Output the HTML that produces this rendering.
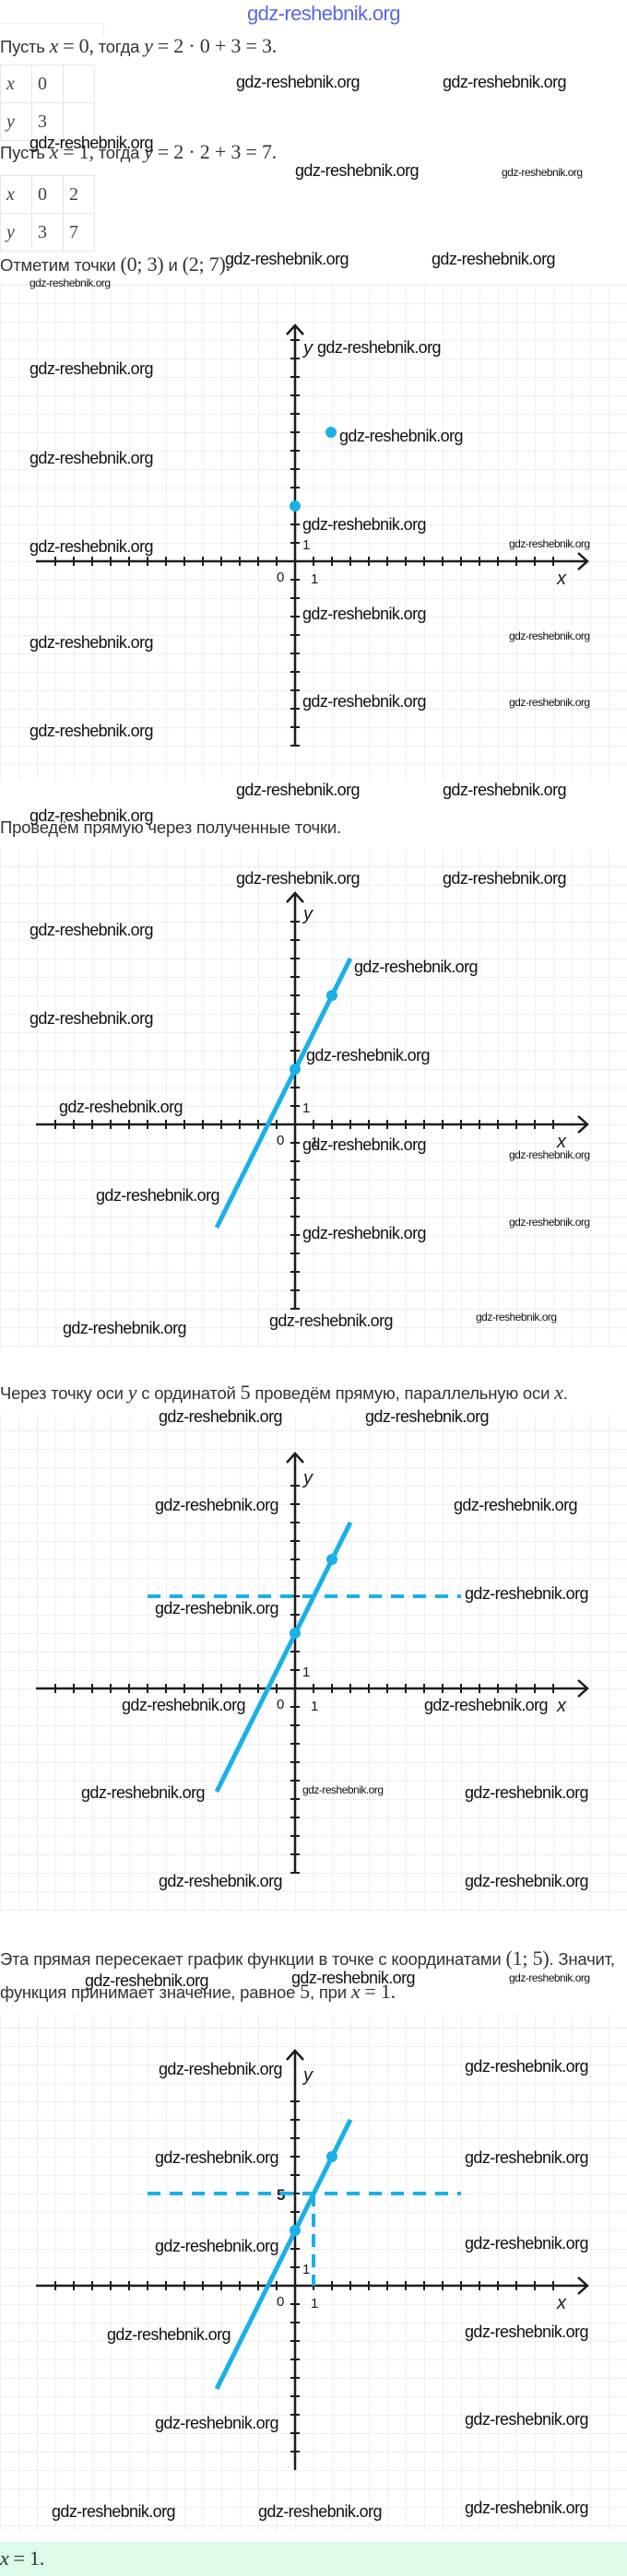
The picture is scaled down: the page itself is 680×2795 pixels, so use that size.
<!DOCTYPE html>
<html><head><meta charset="utf-8">
<style>
body{margin:0;width:680px;height:2795px;position:relative;background:#fff;overflow:hidden;font-family:"Liberation Sans",sans-serif;color:#333}
.t{position:absolute;left:0;font-size:18.5px;white-space:nowrap;line-height:1;letter-spacing:-0.2px}
.m{font-family:"Liberation Serif",serif;font-size:22px}
.mi{font-family:"Liberation Serif",serif;font-style:italic;font-size:22px}
.w{position:absolute;font-family:"Liberation Sans",sans-serif;font-size:18px;color:#111;white-space:nowrap;line-height:1;letter-spacing:-0.6px}
.s{font-size:12px;letter-spacing:-0.5px}
table{position:absolute;left:0;border-collapse:collapse}
td{border:1px solid #e6e6e6;width:27px;height:40px;padding:0 0 0 6px;font-family:"Liberation Serif",serif;font-size:20px;color:#444}
svg{position:absolute;left:0}
</style></head><body>
<div class="w" style="left:268px;top:4px;font-size:22px;color:#5a66e6">gdz-reshebnik.org</div>
<div style="position:absolute;left:0;top:25px;width:112px;height:14px;border-top:1px solid #eee;border-right:1px solid #eee"></div>
<div class="t" style="top:39px">Пусть <span class="mi">x</span> <span class="m">= 0,</span> тогда <span class="mi">y</span> <span class="m">= 2 · 0 + 3 = 3.</span></div>
<table style="top:70px"><tr><td><i>x</i></td><td>0</td><td></td></tr><tr><td><i>y</i></td><td>3</td><td></td></tr></table>
<div class="t" style="top:154px">Пусть <span class="mi">x</span> <span class="m">= 1,</span> тогда <span class="mi">y</span> <span class="m">= 2 · 2 + 3 = 7.</span></div>
<table style="top:190px"><tr><td><i>x</i></td><td>0</td><td>2</td></tr><tr><td><i>y</i></td><td>3</td><td>7</td></tr></table>
<div class="t" style="top:276px">Отметим точки <span class="m">(0; 3)</span> и <span class="m">(2; 7).</span></div>
<div class="t" style="top:889px">Проведём прямую через полученные точки.</div>
<div class="t" style="top:1500px">Через точку оси <span class="mi">y</span> с ординатой <span class="m">5</span> проведём прямую, параллельную оси <span class="mi">x</span>.</div>
<div class="t" style="top:2114px">Эта прямая пересекает график функции в точке с координатами <span class="m">(1; 5)</span>. Значит,</div>
<div class="t" style="top:2150px">функция принимает значение, равное <span class="m">5</span>, при <span class="mi">x</span> <span class="m">= 1.</span></div>

<svg width="0" height="0" style="position:absolute"><defs>
<pattern id="g" width="20" height="20" patternUnits="userSpaceOnUse"><path d="M0 0H20M0 0V20" stroke="#e4e4e4" stroke-width="1.2" fill="none"/></pattern>
</defs></svg>

<!-- Graph 1 -->
<svg style="top:308px" width="680" height="540"><g transform="translate(0,301)">
<rect x="0" y="-301" width="680" height="540" fill="url(#g)"/>
<g stroke="#1c1c1c" fill="none" stroke-width="2.5">
<line x1="39" y1="0" x2="637" y2="0"/><polyline points="627,-9 637,0 627,9"/>
<line x1="320" y1="200" x2="320" y2="-256"/><polyline points="311,-246 320,-256 329,-246"/>
<line x1="59" y1="0" x2="601" y2="0" stroke-width="10" stroke-dasharray="2 18"/>
<line x1="320" y1="-241" x2="320" y2="201" stroke-width="10" stroke-dasharray="2 18"/>
</g>
<g font-family="Liberation Sans" fill="#1c1c1c" font-size="15">
<text x="329" y="-225" font-size="20" font-style="italic">y</text><text x="604" y="25" font-size="20" font-style="italic">x</text>
<text x="300" y="22">0</text><text x="337" y="24">1</text><text x="328" y="-13">1</text></g>
<circle cx="320" cy="-60" r="6" fill="#1ab0e8"/><circle cx="359" cy="-140" r="6" fill="#1ab0e8"/>
</g></svg>

<!-- Graph 2 -->
<svg style="top:921px" width="680" height="542"><g transform="translate(0,299)">
<rect x="0" y="-299" width="680" height="542" fill="url(#g)"/>
<g stroke="#1c1c1c" fill="none" stroke-width="2.5">
<line x1="39" y1="0" x2="637" y2="0"/><polyline points="627,-9 637,0 627,9"/>
<line x1="320" y1="200" x2="320" y2="-251"/><polyline points="311,-241 320,-251 329,-241"/>
<line x1="59" y1="0" x2="601" y2="0" stroke-width="10" stroke-dasharray="2 18"/>
<line x1="320" y1="-221" x2="320" y2="201" stroke-width="10" stroke-dasharray="2 18"/>
</g>
<g font-family="Liberation Sans" fill="#1c1c1c" font-size="15">
<text x="329" y="-222" font-size="20" font-style="italic">y</text><text x="604" y="25" font-size="20" font-style="italic">x</text>
<text x="300" y="22">0</text><text x="337" y="24">1</text><text x="328" y="-13">1</text></g>
<line x1="380" y1="-180" x2="235" y2="112" stroke="#1ab0e8" stroke-width="5"/>
<circle cx="320" cy="-60" r="6" fill="#1ab0e8"/><circle cx="360" cy="-140" r="6" fill="#1ab0e8"/>
</g></svg>

<!-- Graph 3 -->
<svg style="top:1535px" width="680" height="538"><g transform="translate(0,297)">
<rect x="0" y="-297" width="680" height="538" fill="url(#g)"/>
<g stroke="#1c1c1c" fill="none" stroke-width="2.5">
<line x1="39" y1="0" x2="637" y2="0"/><polyline points="627,-9 637,0 627,9"/>
<line x1="320" y1="200" x2="320" y2="-255"/><polyline points="311,-245 320,-255 329,-245"/>
<line x1="59" y1="0" x2="601" y2="0" stroke-width="10" stroke-dasharray="2 18"/>
<line x1="320" y1="-221" x2="320" y2="201" stroke-width="10" stroke-dasharray="2 18"/>
</g>
<g font-family="Liberation Sans" fill="#1c1c1c" font-size="15">
<text x="329" y="-222" font-size="20" font-style="italic">y</text><text x="604" y="25" font-size="20" font-style="italic">x</text>
<text x="300" y="22">0</text><text x="337" y="24">1</text><text x="328" y="-13">1</text></g>
<line x1="160" y1="-100" x2="500" y2="-100" stroke="#1ab0e8" stroke-width="4" stroke-dasharray="14 10"/>
<line x1="380" y1="-180" x2="235" y2="112" stroke="#1ab0e8" stroke-width="5"/>
<circle cx="320" cy="-60" r="6" fill="#1ab0e8"/><circle cx="360" cy="-140" r="6" fill="#1ab0e8"/>
</g></svg>

<!-- Graph 4 -->
<svg style="top:2184px" width="680" height="562"><g transform="translate(0,296)">
<rect x="0" y="-296" width="680" height="562" fill="url(#g)"/>
<g stroke="#1c1c1c" fill="none" stroke-width="2.5">
<line x1="39" y1="0" x2="637" y2="0"/><polyline points="627,-9 637,0 627,9"/>
<line x1="320" y1="200" x2="320" y2="-255"/><polyline points="311,-245 320,-255 329,-245"/>
<line x1="59" y1="0" x2="601" y2="0" stroke-width="10" stroke-dasharray="2 18"/>
<line x1="320" y1="-201" x2="320" y2="181" stroke-width="10" stroke-dasharray="2 18"/>
</g>
<g font-family="Liberation Sans" fill="#1c1c1c" font-size="15">
<text x="329" y="-222" font-size="20" font-style="italic">y</text><text x="604" y="25" font-size="20" font-style="italic">x</text>
<text x="300" y="22">0</text><text x="337" y="24">1</text><text x="328" y="-13">1</text>
<text x="300" y="-93" font-size="17" font-weight="bold">5</text></g>
<line x1="160" y1="-100" x2="500" y2="-100" stroke="#1ab0e8" stroke-width="4" stroke-dasharray="14 10"/>
<line x1="340" y1="-100" x2="340" y2="0" stroke="#1ab0e8" stroke-width="4" stroke-dasharray="14 8"/>
<line x1="380" y1="-180" x2="235" y2="112" stroke="#1ab0e8" stroke-width="5"/>
<circle cx="320" cy="-60" r="6" fill="#1ab0e8"/><circle cx="360" cy="-140" r="6" fill="#1ab0e8"/>
</g></svg>

<div style="position:absolute;left:0;top:2758px;width:680px;height:37px;background:#dcfbe9"></div>
<div class="t" style="top:2765px"><span class="mi">x</span> <span class="m">= 1.</span></div>

<div class="w" style="left:256px;top:80px">gdz-reshebnik.org</div>
<div class="w" style="left:480px;top:80px">gdz-reshebnik.org</div>
<div class="w" style="left:32px;top:146px">gdz-reshebnik.org</div>
<div class="w" style="left:320px;top:176px">gdz-reshebnik.org</div>
<div class="w s" style="left:544px;top:181px">gdz-reshebnik.org</div>
<div class="w" style="left:244px;top:272px">gdz-reshebnik.org</div>
<div class="w" style="left:468px;top:272px">gdz-reshebnik.org</div>
<div class="w s" style="left:32px;top:301px">gdz-reshebnik.org</div>

<div class="w" style="left:32px;top:391px">gdz-reshebnik.org</div>
<div class="w" style="left:344px;top:368px">gdz-reshebnik.org</div>
<div class="w" style="left:368px;top:464px">gdz-reshebnik.org</div>
<div class="w" style="left:32px;top:488px">gdz-reshebnik.org</div>
<div class="w" style="left:328px;top:560px">gdz-reshebnik.org</div>
<div class="w" style="left:32px;top:584px">gdz-reshebnik.org</div>
<div class="w s" style="left:552px;top:584px">gdz-reshebnik.org</div>
<div class="w" style="left:328px;top:657px">gdz-reshebnik.org</div>
<div class="w" style="left:32px;top:688px">gdz-reshebnik.org</div>
<div class="w s" style="left:552px;top:684px">gdz-reshebnik.org</div>
<div class="w" style="left:328px;top:752px">gdz-reshebnik.org</div>
<div class="w s" style="left:552px;top:756px">gdz-reshebnik.org</div>
<div class="w" style="left:32px;top:784px">gdz-reshebnik.org</div>
<div class="w" style="left:256px;top:848px">gdz-reshebnik.org</div>
<div class="w" style="left:480px;top:848px">gdz-reshebnik.org</div>
<div class="w" style="left:32px;top:876px">gdz-reshebnik.org</div>

<div class="w" style="left:256px;top:944px">gdz-reshebnik.org</div>
<div class="w" style="left:480px;top:944px">gdz-reshebnik.org</div>
<div class="w" style="left:32px;top:1000px">gdz-reshebnik.org</div>
<div class="w" style="left:384px;top:1040px">gdz-reshebnik.org</div>
<div class="w" style="left:32px;top:1096px">gdz-reshebnik.org</div>
<div class="w" style="left:332px;top:1136px">gdz-reshebnik.org</div>
<div class="w" style="left:64px;top:1192px">gdz-reshebnik.org</div>
<div class="w" style="left:328px;top:1233px">gdz-reshebnik.org</div>
<div class="w s" style="left:552px;top:1247px">gdz-reshebnik.org</div>
<div class="w" style="left:104px;top:1288px">gdz-reshebnik.org</div>
<div class="w s" style="left:552px;top:1320px">gdz-reshebnik.org</div>
<div class="w" style="left:328px;top:1329px">gdz-reshebnik.org</div>
<div class="w" style="left:68px;top:1432px">gdz-reshebnik.org</div>
<div class="w" style="left:292px;top:1424px">gdz-reshebnik.org</div>
<div class="w s" style="left:516px;top:1423px">gdz-reshebnik.org</div>

<div class="w" style="left:172px;top:1528px">gdz-reshebnik.org</div>
<div class="w" style="left:396px;top:1528px">gdz-reshebnik.org</div>
<div class="w" style="left:168px;top:1624px">gdz-reshebnik.org</div>
<div class="w" style="left:492px;top:1624px">gdz-reshebnik.org</div>
<div class="w" style="left:504px;top:1720px">gdz-reshebnik.org</div>
<div class="w" style="left:168px;top:1736px">gdz-reshebnik.org</div>
<div class="w" style="left:132px;top:1841px">gdz-reshebnik.org</div>
<div class="w" style="left:460px;top:1841px">gdz-reshebnik.org</div>
<div class="w" style="left:88px;top:1936px">gdz-reshebnik.org</div>
<div class="w s" style="left:328px;top:1936px">gdz-reshebnik.org</div>
<div class="w" style="left:504px;top:1936px">gdz-reshebnik.org</div>
<div class="w" style="left:172px;top:2032px">gdz-reshebnik.org</div>
<div class="w" style="left:504px;top:2032px">gdz-reshebnik.org</div>

<div class="w" style="left:92px;top:2140px">gdz-reshebnik.org</div>
<div class="w" style="left:316px;top:2137px">gdz-reshebnik.org</div>
<div class="w s" style="left:552px;top:2140px">gdz-reshebnik.org</div>
<div class="w" style="left:172px;top:2236px">gdz-reshebnik.org</div>
<div class="w" style="left:504px;top:2233px">gdz-reshebnik.org</div>
<div class="w" style="left:168px;top:2332px">gdz-reshebnik.org</div>
<div class="w" style="left:504px;top:2332px">gdz-reshebnik.org</div>
<div class="w" style="left:168px;top:2428px">gdz-reshebnik.org</div>
<div class="w" style="left:504px;top:2425px">gdz-reshebnik.org</div>
<div class="w" style="left:116px;top:2524px">gdz-reshebnik.org</div>
<div class="w" style="left:504px;top:2521px">gdz-reshebnik.org</div>
<div class="w" style="left:168px;top:2620px">gdz-reshebnik.org</div>
<div class="w" style="left:504px;top:2616px">gdz-reshebnik.org</div>
<div class="w" style="left:56px;top:2716px">gdz-reshebnik.org</div>
<div class="w" style="left:280px;top:2716px">gdz-reshebnik.org</div>
<div class="w" style="left:504px;top:2712px">gdz-reshebnik.org</div>
</body></html>
